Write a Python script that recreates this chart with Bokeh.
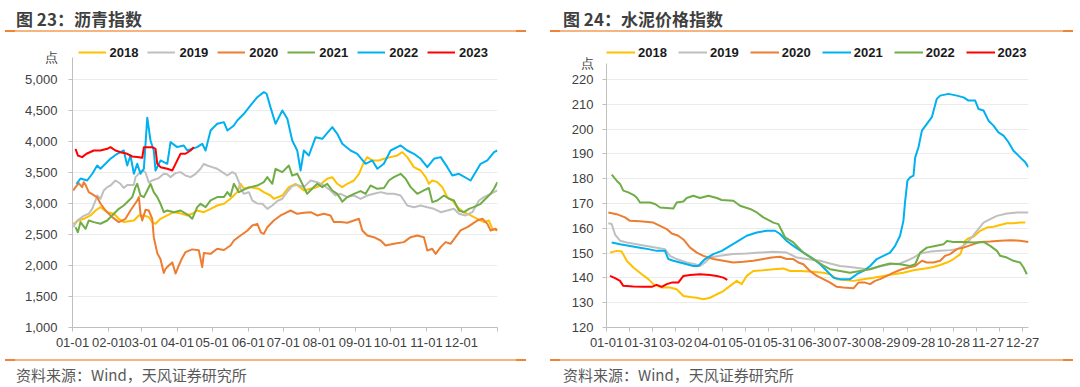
from bokeh.plotting import figure
from bokeh.layouts import row, column
from bokeh.models import (Range1d, FixedTicker, NumeralTickFormatter, Legend, LegendItem, Div)
from bokeh.embed import file_html
from bokeh.resources import INLINE

# ---------------- data ----------------
YEARS = ["2018", "2019", "2020", "2021", "2022", "2023"]

asphalt_title = "图 23：沥青指数"
cement_title = "图 24：水泥价格指数"
unit_label = "点"
source_text = "资料来源：Wind，天风证券研究所"

asphalt_tick_days = [0, 31, 59, 90, 120, 151, 181, 212, 243, 273, 304, 334, 365]
asphalt_tick_labels = ["01-01", "02-01", "03-01", "04-01", "05-01", "06-01", "07-01",
                       "08-01", "09-01", "10-01", "11-01", "12-01", ""]
asphalt_y_ticks = [1000, 1500, 2000, 2500, 3000, 3500, 4000, 4500, 5000]
asphalt_unit_pos = 5355

cement_label_days = [0, 30, 60, 90, 120, 150, 180, 210, 240, 270, 300, 330, 360]
cement_tick_labels = ["01-01", "01-31", "03-02", "04-01", "05-01", "05-31", "06-30",
                      "07-30", "08-29", "09-28", "10-28", "11-27", "12-27"]
cement_mark_days = [0, 20, 40, 60, 80, 100, 120, 140, 160, 180, 200, 220, 240, 260,
                    280, 300, 320, 340, 360]
cement_y_ticks = [120, 130, 140, 150, 160, 170, 180, 190, 200, 210, 220]
cement_unit_pos = 226.6

# (day of year, index value)
asphalt_2018 = [(0.6, 2672), (5.4, 2726), (9.7, 2753), (15.5, 2807), (19.8, 2887), (24, 2941),
                (29.8, 2860), (35.5, 2834), (39.8, 2753), (44, 2700), (52.7, 2726), (57, 2807),
                (61.3, 2807), (65.5, 2780), (68.5, 2700), (71.3, 2673), (75.6, 2753), (81.4, 2807),
                (87, 2860), (94.2, 2834), (98.5, 2807), (102.8, 2834), (107.1, 2887), (112.8, 2860),
                (118.6, 2914), (124.3, 2968), (130, 2995), (135.7, 3076), (141.5, 3183), (144.3, 3318),
                (147.2, 3237), (151.5, 3264), (160, 3237), (164.3, 3183), (170.1, 3129), (172.9, 3076),
                (180.2, 3129), (185.8, 3264), (191.6, 3318), (198.7, 3210), (204.5, 3237), (210.2, 3264),
                (218.8, 3398), (223.1, 3425), (227.4, 3318), (231.7, 3264), (236, 3318), (241.7, 3371),
                (246, 3479), (250.3, 3667), (253.2, 3748), (257.5, 3694), (263.2, 3694), (267.5, 3721),
                (273.2, 3748), (279, 3775), (283.2, 3828), (287.5, 3748), (293.2, 3586), (299, 3532),
                (303.3, 3425), (306.1, 3318), (309, 3371), (313.3, 3344), (317.6, 3264), (321.9, 3103),
                (326.2, 3049), (330.5, 2941), (336.2, 2860), (341.9, 2807), (347.7, 2753), (353.4, 2700),
                (357.6, 2726), (360.6, 2592), (364.9, 2565)]
asphalt_2019 = [(0.6, 2618), (4, 2726), (9.7, 2800), (14, 2834), (16.9, 2914), (19.8, 3049),
                (21.2, 3130), (24, 3076), (26.9, 3210), (29.8, 3264), (32.6, 3290), (36.9, 3371),
                (41.2, 3318), (44, 3250), (47, 3300), (52.7, 3300), (54.1, 3425), (59.9, 3540),
                (62.7, 3500), (65.5, 3340), (68.5, 3371), (74.1, 3410), (78.4, 3479), (81.4, 3470),
                (84.2, 3425), (88.5, 3490), (92.8, 3506), (97, 3452), (101.4, 3425), (105.7, 3479),
                (110, 3560), (112.8, 3640), (115.7, 3613), (120, 3586), (124.3, 3560), (128.6, 3506),
                (132.9, 3452), (137.2, 3506), (140, 3479), (142.9, 3350), (144.3, 3237), (147.2, 3156),
                (151.5, 3183), (154.4, 3049), (158.7, 3000), (163, 2995), (167.3, 2914), (171.6, 2968),
                (175.9, 3040), (180.2, 3076), (184.5, 3190), (188.7, 3280), (193, 3300), (198.7, 3264),
                (204.5, 3371), (210.2, 3344), (215.9, 3290), (221.6, 3210), (225.9, 3129), (230.2, 3156),
                (236, 3103), (241.7, 3129), (247.4, 3076), (253.2, 3129), (258.8, 3156), (264.6, 3183),
                (270.4, 3156), (276, 3156), (281.8, 3129), (287.5, 2968), (293.2, 2941), (299, 2968),
                (304.7, 2941), (310.4, 2914), (316.2, 2860), (321.9, 2887), (327.6, 2914), (331.9, 2834),
                (337.6, 2807), (343.4, 2860), (349.1, 3049), (353.4, 3103), (359.1, 3156), (364.9, 3210)]
asphalt_2020 = [(0.6, 3210), (2.6, 3264), (5.4, 3330), (8.3, 3264), (9.7, 3344), (11.2, 3300),
                (14, 3183), (16.9, 3150), (21.2, 3100), (24, 3000), (28.4, 2887), (34.1, 2780),
                (39.8, 2700), (45.5, 2753), (49.8, 2887), (55.6, 3049), (57, 3103), (58.4, 2834),
                (59.9, 2726), (62.7, 2900), (65.5, 2887), (68.5, 2753), (69.8, 2457), (72.8, 2200),
                (75.6, 2100), (78.4, 1880), (79.9, 1946), (82.7, 2000), (85.7, 2050), (88.5, 1870),
                (91.3, 2000), (93.6, 2100), (97, 2215), (102.8, 2260), (108.5, 2245), (111.4, 1973),
                (112.8, 2200), (118.6, 2188), (124.3, 2269), (130, 2250), (135.7, 2323), (138.6, 2403),
                (144.3, 2484), (150.1, 2560), (154.4, 2645), (158.7, 2672), (161.9, 2530), (164.3, 2510),
                (167.3, 2618), (172.9, 2726), (178.7, 2807), (181.5, 2834), (187.3, 2887), (193, 2834),
                (198.7, 2850), (204.5, 2860), (210.2, 2807), (215.9, 2834), (221.6, 2807), (224.5, 2700),
                (230.2, 2700), (236, 2690), (241.7, 2726), (246, 2753), (248.9, 2565), (253.2, 2484),
                (258.8, 2457), (264.6, 2403), (268.9, 2323), (276, 2350), (284.6, 2377), (290.4, 2457),
                (296.1, 2484), (301.8, 2457), (304.7, 2242), (309, 2269), (311.9, 2188), (316.2, 2296),
                (320.4, 2377), (324.7, 2350), (329, 2457), (333.3, 2565), (339.1, 2618), (343.4, 2672),
                (347.7, 2726), (352, 2753), (356.3, 2672), (359.1, 2565), (363.4, 2592), (364.9, 2565)]
asphalt_2021 = [(2.6, 2618), (4.6, 2537), (6.9, 2700), (11.2, 2592), (14, 2726), (18.3, 2700),
                (24, 2673), (29.8, 2726), (35.5, 2834), (39.8, 2914), (44, 2968), (48.4, 3049),
                (51.3, 3103), (54.1, 3264), (55.6, 3318), (58.4, 3129), (61.3, 3103), (64.2, 3210),
                (67, 3318), (69.8, 3183), (72.8, 3103), (75.6, 2995), (78.4, 2860), (81.4, 2887),
                (87, 2860), (92.8, 2887), (99.9, 2807), (102.8, 2753), (107.1, 2941), (110, 2995),
                (114.3, 2941), (118.6, 3049), (124.3, 3103), (130, 3103), (133, 3183), (135.7, 3120),
                (138.6, 3318), (142.9, 3183), (148.6, 3237), (152.9, 3264), (158.7, 3290), (164.3, 3344),
                (167.3, 3425), (171.6, 3318), (174.4, 3560), (180.2, 3506), (185.8, 3613), (188.7, 3450),
                (193, 3479), (195.9, 3371), (198.7, 3264), (201.5, 3156), (205.8, 3237), (210.2, 3318),
                (214.5, 3264), (218.8, 3318), (223.1, 3210), (227.4, 3156), (231.7, 3030), (236, 3103),
                (241.7, 3156), (247.4, 3200), (251.7, 3156), (256, 3290), (261.8, 3237), (267.5, 3250),
                (271.7, 3371), (276, 3425), (281.8, 3479), (286.1, 3398), (290.4, 3264), (296.1, 3156),
                (301.8, 3210), (306.1, 3250), (309, 3022), (313.3, 3049), (319, 3129), (323.3, 3076),
                (327.6, 3049), (331.9, 2887), (336.2, 2860), (340.5, 2914), (344.5, 2941), (350.5, 2995),
                (354.8, 3076), (359.1, 3156), (362, 3237), (364.9, 3344)]
asphalt_2022 = [(3.4, 3318), (6.9, 3403), (12.6, 3371), (17, 3480), (21.2, 3613), (24, 3560),
                (32.6, 3721), (38.4, 3802), (44, 3855), (47, 3613), (49.8, 3774), (52.7, 3479),
                (55.6, 3640), (58.4, 3480), (61.3, 3560), (64.2, 4383), (67, 4016), (69.8, 3855),
                (71.3, 3532), (75.6, 3694), (81.4, 3640), (84.2, 3990), (89.9, 3910), (95.6, 3936),
                (98.5, 3855), (107, 3910), (111.4, 3963), (114.3, 3855), (118.6, 4178), (124.3, 4285),
                (130, 4312), (133, 4178), (138.6, 4258), (141.5, 4339), (147.2, 4447), (152.9, 4581),
                (158.7, 4715), (164.3, 4796), (166.7, 4770), (170, 4554), (174.4, 4285), (180.2, 4500),
                (184.5, 4366), (188.7, 4016), (193, 3855), (195.9, 3532), (198.7, 3855), (203, 3774),
                (208.8, 4070), (214.5, 4043), (223.1, 4231), (227.4, 4124), (231.7, 3963), (238.8, 3855),
                (244.6, 3802), (251.7, 3640), (257.5, 3694), (261.8, 3560), (267.4, 3640), (273.2, 3855),
                (281.8, 3936), (287.5, 3855), (293.2, 3802), (299, 3721), (304.7, 3586), (310.4, 3721),
                (316.2, 3748), (321.9, 3586), (326.2, 3452), (331.9, 3479), (341.9, 3371), (350.5, 3640),
                (356.3, 3694), (362, 3828), (364.9, 3855)]
asphalt_2023 = [(2.6, 3882), (4.6, 3774), (8.3, 3748), (12, 3802), (18.3, 3855), (24, 3855),
                (29.8, 3882), (32.6, 3909), (36.9, 3855), (41.2, 3828), (47, 3802), (51.3, 3758),
                (55.6, 3750), (59.9, 3737), (61.3, 3909), (68.5, 3909), (71.3, 3882), (72.8, 3640),
                (75.6, 3586), (81.4, 3560), (85.7, 3532), (88.5, 3640), (92.8, 3802), (97, 3802),
                (101.4, 3855), (104.2, 3909)]

cement_2018 = [(3, 150.2), (8.8, 150.9), (13.2, 150.6), (17.5, 146.9), (23.2, 144.2), (30.5, 141.5),
               (36.2, 139.5), (40.5, 137.5), (47.8, 136.1), (54.9, 136.1), (60.7, 135.4), (66.5, 132.7),
               (72.3, 132.3), (78.1, 132), (83.8, 131.4), (89.6, 132), (95.4, 133.4), (101.1, 134.7),
               (106.9, 136.8), (112.7, 138.8), (117, 137.5), (121.3, 140.8), (127, 142.8), (135.7, 143.1),
               (144.3, 143.5), (153, 143.8), (158.8, 142.8), (167.4, 142.8), (178.9, 142.5), (187.6, 142.1),
               (193.4, 141.5), (199.2, 139.5), (207.9, 139.1), (213.6, 138.8), (222.2, 139.5), (230.8, 140.1),
               (239.5, 140.8), (248.2, 141.5), (256.8, 142.1), (265.5, 143.1), (271.3, 143.5), (277.1, 143.9),
               (282.8, 144.4), (288.6, 145.2), (294.4, 146.2), (300.2, 147.6), (306, 149.6), (310.3, 155),
               (313.1, 156), (317.5, 156.6), (323.2, 159), (329, 160.3), (334.7, 160.6), (340.5, 161.3),
               (346.3, 162), (352, 162), (357.8, 162.3), (362.2, 162.3)]
cement_2019 = [(1.6, 162), (4.5, 161.7), (7.4, 157.5), (11.7, 155), (17.5, 154.3), (26.1, 153.6),
               (34.8, 152.9), (43.4, 152.2), (50.6, 151.6), (54.9, 148.9), (60.7, 147.6), (69.4, 146.2),
               (76.6, 145.5), (80.9, 144.8), (85.2, 146.2), (89.6, 148.2), (98.2, 148.9), (109.7, 149.6),
               (121.3, 149.8), (132.8, 150.2), (144.3, 150.5), (155.9, 150.2), (164.6, 148.2), (173.2, 147.6),
               (184.8, 146.9), (193.4, 145.8), (202, 144.8), (210.7, 144.4), (219.3, 143.9), (225.1, 143.5),
               (230.8, 143.9), (238.1, 144.8), (245.3, 145.5), (253.9, 145.8), (259.7, 146.9), (265.5, 148.2),
               (271.3, 149.8), (280, 150.6), (288.6, 150.9), (297.2, 151.2), (303, 151.6), (308.8, 152.9),
               (314.6, 155.6), (320.4, 159), (326.1, 162.3), (331.9, 163.7), (337.7, 165), (346.3, 166),
               (355, 166.4), (365, 166.4)]
cement_2020 = [(1.6, 166.4), (8.8, 165.7), (16, 164.4), (20.3, 163), (29, 162.8), (40.5, 162.3),
               (46.3, 161), (52.1, 159.7), (56.4, 157.9), (62.1, 157), (66.5, 155.5), (72.3, 152.2),
               (78.1, 150.2), (83.8, 148.9), (92.4, 147.6), (101.1, 146.9), (109.7, 146.2), (118.4, 146.5),
               (127, 146.9), (135.7, 147.6), (142.9, 148.2), (150.1, 148.5), (155.9, 147.6), (161.6, 147.6),
               (166, 146.2), (170.3, 145.5), (176, 142.8), (181.9, 140.8), (187.6, 139.5), (193.4, 138.1),
               (199.2, 136.4), (204.9, 136.1), (213.6, 135.8), (217.9, 138.1), (223.7, 138.1), (228, 137.5),
               (232.3, 138.8), (236.6, 139.5), (242.5, 140.8), (248.2, 142.1), (255.4, 143.5), (261.2, 144.2),
               (267, 144.8), (272.8, 146.9), (277.1, 146.2), (282.8, 146.2), (288.6, 146.9), (292.9, 148.9),
               (297.2, 149.6), (303, 151.6), (308.8, 152.2), (317.5, 153.6), (323.2, 154.5), (331.9, 154.7),
               (340.5, 155), (349.2, 155.2), (357.8, 155), (365, 154.5)]
cement_2021 = [(4.5, 154.3), (11.7, 153.6), (20.3, 152.9), (29, 152.2), (36.2, 151.6), (43.4, 150.9),
               (50.6, 150.9), (53.5, 147.6), (57.8, 146.9), (63.6, 146.2), (69.4, 145.5), (75.1, 144.8),
               (79.4, 144.8), (85.2, 147.6), (92.4, 149.6), (99.7, 150.9), (106.9, 152.9), (114, 154.9),
               (121.3, 157), (130, 158.3), (138.6, 159), (145.8, 159), (150.1, 157.7), (155.9, 154.9),
               (161.6, 152.9), (170.3, 150.2), (179, 147.6), (184.8, 145.5), (190.6, 142.8), (196.3, 140.1),
               (202, 139.5), (210.7, 139.5), (216.5, 141.5), (222.2, 142.8), (228, 144.8), (233.8, 147.6),
               (239.5, 148.9), (245.3, 150.2), (249.6, 152.9), (253.9, 157), (256.8, 163), (258.3, 171),
               (260.3, 179.2), (262.6, 180.5), (265.5, 181.2), (267, 188.6), (269.8, 192.6), (272.8, 199.4),
               (277.1, 202.1), (281.4, 204.8), (285.7, 212.2), (288.6, 213.5), (295.8, 214.2), (303, 213.5),
               (308.8, 212.8), (313.1, 211.5), (318.9, 211.5), (321.8, 208.1), (326.1, 207.5), (330.4, 203.4),
               (334.7, 201.4), (339, 198.7), (343.4, 197.4), (347.7, 194.7), (352, 191.3), (357.8, 188.6),
               (362.2, 186.6), (365, 184.6)]
cement_2022 = [(4.5, 181.6), (8.8, 179.2), (11.7, 177.9), (14.5, 175.2), (18.9, 174.5), (23.2, 173.5),
               (26.1, 172.4), (29, 170.4), (37.6, 170.4), (42, 169.8), (46.3, 168.4), (57.8, 168),
               (60.7, 170.4), (66.5, 170.8), (69.4, 172.2), (75.1, 173.1), (80.9, 172.2), (88.1, 173.1),
               (95.4, 172.2), (99.7, 171.4), (109.7, 171.1), (115.5, 169.1), (124.2, 167.8), (130, 166.4),
               (135.7, 164.4), (141.5, 163), (144.3, 162.3), (148.7, 161.7), (151.6, 159), (154.5, 156.3),
               (161.6, 154.3), (170.3, 150.2), (179, 147.6), (187.6, 145), (193.4, 143.5), (202, 142.8),
               (210.7, 142.1), (219.3, 142.8), (228, 143.5), (236.6, 144.8), (245.3, 145.8), (253.9, 145.5),
               (262.6, 144.8), (267, 145.5), (271.3, 150.2), (277.1, 152.2), (284.3, 152.9), (291.5, 153.6),
               (294.4, 154.9), (300.2, 154.5), (308.8, 154.5), (317.5, 154.3), (326.1, 154.5), (331.9, 152.9),
               (337.7, 150.9), (340.5, 148.9), (346.3, 148.2), (352, 146.9), (357.8, 146.2), (360.7, 144.2),
               (363.6, 141.5)]
cement_2023 = [(3, 140.8), (7.4, 139.9), (11.7, 138.8), (14.5, 136.8), (23.2, 136.5), (31.8, 136.4),
               (39.1, 136.4), (43.4, 137.2), (47.8, 136.4), (52.1, 137.5), (56.4, 138.1), (62.1, 138.1),
               (66.5, 140.8), (72.3, 141.2), (80.9, 141.5), (89.6, 141.2), (95.4, 140.8), (101.1, 140.1),
               (104.5, 139.2)]

asphalt_series = [asphalt_2018, asphalt_2019, asphalt_2020, asphalt_2021, asphalt_2022, asphalt_2023]
cement_series = [cement_2018, cement_2019, cement_2020, cement_2021, cement_2022, cement_2023]

asphalt_colors = ["#FFC000", "#BFBFBF", "#ED7D31", "#70AD47", "#00B0F0", "#FF0000"]
cement_colors = ["#FFC000", "#BFBFBF", "#ED7D31", "#00B0F0", "#70AD47", "#FF0000"]

# ---------------- styling helpers ----------------
NUM_FONT = "Liberation Sans"
AXIS_COLOR = "#BFBFBF"
LABEL_COLOR = "#404040"
RULE_BG = ("background:linear-gradient(to right,#EE8536 0px,#EE8536 10px,#F5B480 10px,"
           "#F5B480 calc(100% - 10px),#EE8536 calc(100% - 10px));")


def base_figure(y_range, y_ticks, unit_pos, border_left, border_right):
    p = figure(width=540, height=319, x_range=Range1d(0, 365), y_range=Range1d(*y_range),
               output_backend="svg", toolbar_location=None,
               min_border_left=border_left, min_border_right=border_right,
               min_border_top=0, min_border_bottom=28)
    p.outline_line_color = None
    p.background_fill_color = "white"
    p.border_fill_color = "white"
    p.xgrid.visible = False
    p.ygrid.ticker = FixedTicker(ticks=y_ticks)
    p.ygrid.grid_line_color = "#EBEBEB"
    p.ygrid.grid_line_width = 1
    for ax in (p.xaxis[0], p.yaxis[0]):
        ax.axis_line_color = AXIS_COLOR
        ax.axis_line_width = 1
        ax.major_tick_line_color = AXIS_COLOR
        ax.major_tick_in = 0
        ax.major_tick_out = 4
        ax.minor_tick_line_color = None
        ax.major_label_text_font = NUM_FONT
        ax.major_label_text_font_size = "13px"
        ax.major_label_text_color = LABEL_COLOR
    p.xaxis[0].major_label_standoff = 6
    # y axis: value ticks plus the unit label "点" at its top
    ya = p.yaxis[0]
    ya.ticker = FixedTicker(ticks=y_ticks + [unit_pos], minor_ticks=y_ticks)
    ya.major_label_overrides = {unit_pos: unit_label}
    ya.bounds = (y_ticks[0], unit_pos)
    ya.major_tick_line_color = None
    ya.minor_tick_line_color = AXIS_COLOR
    ya.minor_tick_in = 0
    ya.minor_tick_out = 4
    return p


def draw_series(p, series, colors, legend_x, glyph_w, standoff, spacing):
    items = []
    for name, pts, col in zip(YEARS, series, colors):
        xs = [d for d, v in pts]
        ys = [v for d, v in pts]
        r = p.line(xs, ys, line_color=col, line_width=2, line_join="round")
        items.append(LegendItem(label=name, renderers=[r]))
    leg = Legend(items=items, orientation="horizontal", location=(legend_x, 267.5),
                 glyph_width=glyph_w, glyph_height=14, label_height=14, label_standoff=standoff,
                 spacing=spacing, padding=0, margin=0, border_line_color=None,
                 background_fill_alpha=0, label_text_font=NUM_FONT,
                 label_text_font_size="13px", label_text_font_style="bold",
                 label_text_color="#1A1A1A")
    p.add_layout(leg)


def title_div(text, pad_left, rule_left, rule_width):
    html = ('<div style="height:8px;"></div>'
            '<div style="height:22px;line-height:22px;padding-left:%dpx;'
            'font-family:\'Noto Sans CJK SC\';font-weight:bold;font-size:17px;color:#3F3F3F;'
            'white-space:nowrap;">%s</div>'
            '<div style="margin-left:%dpx;width:%dpx;height:2px;%s"></div>'
            % (pad_left, text, rule_left, rule_width, RULE_BG))
    return Div(text=html, width=540, height=36, margin=0)


def source_div(text, pad_left, rule_left, rule_width):
    html = ('<div style="height:4px;"></div>'
            '<div style="margin-left:%dpx;width:%dpx;height:2px;%s"></div>'
            '<div style="height:2px;"></div>'
            '<div style="height:24px;line-height:24px;padding-left:%dpx;'
            'font-family:\'Noto Sans CJK SC\';font-size:15px;color:#595959;white-space:nowrap;">%s</div>'
            % (rule_left, rule_width, RULE_BG, pad_left, text))
    return Div(text=html, width=540, height=32, margin=0)


# ---------------- left: asphalt ----------------
p1 = base_figure((1000, 5693.5), asphalt_y_ticks, asphalt_unit_pos, 72, 43)
p1.xaxis[0].ticker = FixedTicker(ticks=asphalt_tick_days)
p1.xaxis[0].major_label_overrides = dict(zip(asphalt_tick_days, asphalt_tick_labels))
p1.yaxis[0].formatter = NumeralTickFormatter(format="0,0")
p1.yaxis[0].major_label_standoff = 11
draw_series(p1, asphalt_series, asphalt_colors, 5.5, 28, 4, 9)

# ---------------- right: cement ----------------
p2 = base_figure((120, 237.34), cement_y_ticks, cement_unit_pos, 66, 52)
p2.xaxis[0].ticker = FixedTicker(ticks=cement_label_days, minor_ticks=cement_mark_days)
p2.xaxis[0].major_label_overrides = dict(zip(cement_label_days, cement_tick_labels))
p2.xaxis[0].major_tick_line_color = None
p2.xaxis[0].minor_tick_line_color = AXIS_COLOR
p2.xaxis[0].minor_tick_in = 0
p2.xaxis[0].minor_tick_out = 4
p2.yaxis[0].major_label_standoff = 9
draw_series(p2, cement_series, cement_colors, 0, 29, 3, 11)

top = row(title_div(asphalt_title, 16, 5, 521), title_div(cement_title, 23, 10, 523), spacing=0)
mid = row(p1, p2, spacing=0)
bottom = row(source_div(source_text, 16, 5, 521), source_div(source_text, 23, 10, 523), spacing=0)
layout = column(top, mid, bottom, spacing=0)
open("out.html", "w").write(file_html(layout, INLINE))
